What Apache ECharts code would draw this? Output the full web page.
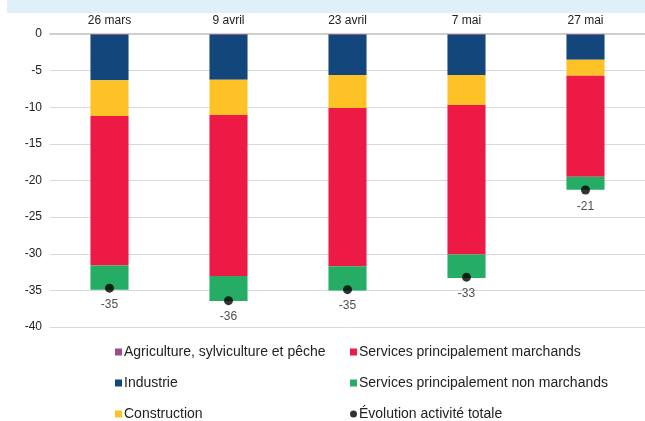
<!DOCTYPE html>
<html>
<head>
    <meta charset="utf-8">
    <title>ECharts</title>
    <script src="https://cdn.jsdelivr.net/npm/echarts@6/dist/echarts.min.js"></script>
    <style>
        body { margin: 0; background: #fff; }
    </style>
</head>
<body>
    <div id="main" style="width: 645px;height:421px;"></div>
    <script type="text/javascript">
        // dates (catégories)
        var dates = ['26 mars', '9 avril', '23 avril', '7 mai', '27 mai'];
        // contributions par secteur (points)
        var agriculture = [-0.1, -0.1, -0.1, -0.1, -0.1];
        var industrie = [-6.2, -6.15, -5.5, -5.5, -3.4];
        var construction = [-4.9, -4.8, -4.5, -4.1, -2.2];
        var servMarchands = [-20.4, -22.0, -21.6, -20.4, -13.8];
        var servNonMarchands = [-3.3, -3.4, -3.3, -3.2, -1.75];
        var total = [-34.7, -36.4, -34.9, -33.2, -21.3];
        var yTicks = [0, -5, -10, -15, -20, -25, -30, -35, -40];

        var myChart = echarts.init(document.getElementById('main'));
        var font = 'Liberation Sans, Arial, sans-serif';

        function bar(name, data, color) {
            return {
                name: name,
                type: 'bar',
                stack: 'total',
                data: data,
                barWidth: '32%',
                itemStyle: { color: color },
                emphasis: { disabled: true }
            };
        }

        // légende en deux colonnes
        function legendCol(left, items) {
            return {
                orient: 'vertical',
                left: left,
                top: 340,
                height: 120,
                itemWidth: 7,
                itemHeight: 7,
                itemGap: 17,
                textStyle: { color: '#222', fontSize: 14, fontFamily: font, padding: [0, 0, 0, -3] },
                data: items
            };
        }

        var option = {
            animation: false,
            textStyle: { fontFamily: font },
            graphic: [{
                type: 'rect',
                shape: { x: 7, y: 0, width: 638, height: 13 },
                style: { fill: '#dff0f8' },
                silent: true
            }],
            grid: { left: 50, right: 0, top: 34, bottom: 94 },
            xAxis: {
                type: 'category',
                data: dates,
                position: 'top',
                axisLine: { show: true, lineStyle: { color: '#cfcfcf', width: 2 } },
                axisTick: { show: false },
                axisLabel: { color: '#222', fontSize: 12, margin: 7, fontFamily: font }
            },
            yAxis: {
                type: 'value',
                min: -40,
                max: 0,
                interval: 5,
                axisLine: { show: false },
                axisTick: { show: false },
                axisLabel: {
                    color: '#222', fontSize: 12, margin: 8, fontFamily: font,
                    formatter: function (v) { return yTicks.indexOf(v) >= 0 ? v : ''; }
                },
                splitLine: { lineStyle: { color: '#d9d9d9', width: 1 } }
            },
            legend: [
                legendCol(110, [
                    { name: 'Agriculture, sylviculture et pêche', icon: 'rect' },
                    { name: 'Industrie', icon: 'rect' },
                    { name: 'Construction', icon: 'rect' }
                ]),
                legendCol(345, [
                    { name: 'Services principalement marchands', icon: 'rect' },
                    { name: 'Services principalement non marchands', icon: 'rect' },
                    { name: 'Évolution activité totale', icon: 'circle' }
                ])
            ],
            series: [
                bar('Agriculture, sylviculture et pêche', agriculture, '#9b4d8c'),
                bar('Industrie', industrie, '#13477b'),
                bar('Construction', construction, '#fdc226'),
                bar('Services principalement marchands', servMarchands, '#ed1a46'),
                bar('Services principalement non marchands', servNonMarchands, '#25ad66'),
                {
                    name: 'Évolution activité totale',
                    type: 'scatter',
                    data: total,
                    symbolSize: 9,
                    itemStyle: { color: '#000' },
                    z: 5,
                    label: {
                        show: true,
                        position: 'bottom',
                        distance: 6,
                        color: '#222',
                        fontSize: 12,
                        fontFamily: font,
                        formatter: function (p) { return Math.round(p.value); }
                    }
                }
            ]
        };

        myChart.setOption(option);
    </script>
</body>
</html>
